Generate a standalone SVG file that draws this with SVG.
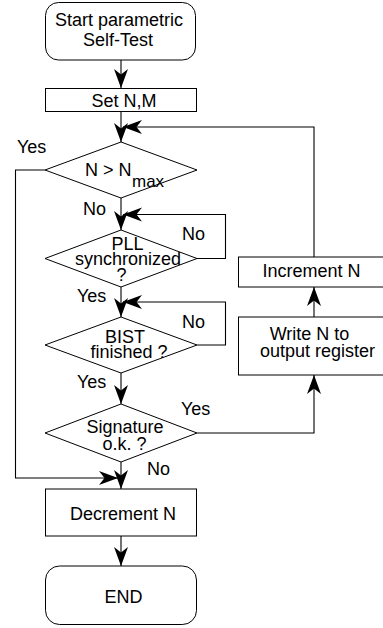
<svg xmlns="http://www.w3.org/2000/svg" width="383" height="628" viewBox="0 0 383 628">
<style>
.box{fill:#fff;stroke:#000;stroke-width:1}
.ln{fill:none;stroke:#000;stroke-width:1.1}
.arr{marker-end:url(#ah)}
text{font-family:"Liberation Sans",Arial,sans-serif;font-size:18px;fill:#000}
.c{text-anchor:middle}
.sub{font-size:17px}
</style>
<defs>
<marker id="ah" markerUnits="userSpaceOnUse" markerWidth="24" markerHeight="18" refX="0" refY="0" viewBox="-20 -9 22 18" orient="auto" overflow="visible">
<path d="M0,0 L-19,-7 L-13.5,0 L-19,7 Z" fill="#000"/>
</marker>
</defs>
<rect width="383" height="628" fill="#fff"/>
<g id="connectors">
<path class="ln arr" d="M121,60 V88"/>
<path class="ln arr" d="M121,111.5 V142"/>
<path class="ln arr" d="M314,257 V127 H123"/>
<path class="ln arr" d="M45,170 H15.5 V478 H118"/>
<path class="ln arr" d="M121,198 V230"/>
<path class="ln arr" d="M197,258.5 H225.5 V214.5 H123"/>
<path class="ln arr" d="M121,287 V317"/>
<path class="ln arr" d="M197,345 H225.5 V302 H123"/>
<path class="ln arr" d="M121,373 V404"/>
<path class="ln arr" d="M197,433 H314 V375"/>
<path class="ln arr" d="M121,462 V489"/>
<path class="ln arr" d="M121,536 V566"/>
<path class="ln arr" d="M314,317 V287"/>
</g>
<g id="start">
<rect class="box" x="45.5" y="2.5" width="150" height="57.5" rx="13"/>
<text class="c" x="119" y="25.5">Start parametric</text>
<text class="c" x="118" y="45.5">Self-Test</text>
</g>
<g id="setnm">
<rect class="box" x="45.5" y="88.5" width="151" height="23"/>
<text class="c" x="124" y="106.5">Set N,M</text>
</g>
<g id="cond_nmax">
<polygon class="box" points="121,142 197,170 121,198 45,170"/>
<text x="85" y="176">N &gt; N</text>
<text class="sub" x="132" y="187">max</text>
</g>
<g id="cond_pll">
<polygon class="box" points="121,230 197,258.5 121,287 45,258.5"/>
<text class="c" x="127.5" y="250">PLL</text>
<text class="c" x="128" y="264.5">synchronized</text>
<text class="c" x="121.5" y="280.5">?</text>
</g>
<g id="cond_bist">
<polygon class="box" points="121,317 197,345 121,373 45,345"/>
<text class="c" x="125" y="343">BIST</text>
<text class="c" x="129" y="358">finished ?</text>
</g>
<g id="cond_sig">
<polygon class="box" points="121,404 197,433 121,462 45,433"/>
<text class="c" x="125" y="433">Signature</text>
<text class="c" x="124.5" y="450">o.k. ?</text>
</g>
<g id="decrement">
<rect class="box" x="45.5" y="489" width="151" height="47"/>
<text class="c" x="123" y="520">Decrement N</text>
</g>
<g id="end">
<rect class="box" x="45.5" y="566" width="151" height="58.5" rx="14"/>
<text class="c" x="123.5" y="603">END</text>
</g>
<g id="increment">
<rect class="box" x="238.5" y="257" width="150" height="30"/>
<text class="c" x="311.5" y="277">Increment N</text>
</g>
<g id="write">
<rect class="box" x="238.5" y="317" width="150" height="58"/>
<text class="c" x="309.5" y="340">Write N to</text>
<text class="c" x="317.5" y="357">output register</text>
</g>
<g id="labels">
<text x="17" y="153">Yes</text>
<text x="83" y="215">No</text>
<text x="182" y="240">No</text>
<text x="77" y="302">Yes</text>
<text x="182" y="328">No</text>
<text x="77" y="388">Yes</text>
<text x="181" y="415">Yes</text>
<text x="147" y="475">No</text>
</g>
</svg>
